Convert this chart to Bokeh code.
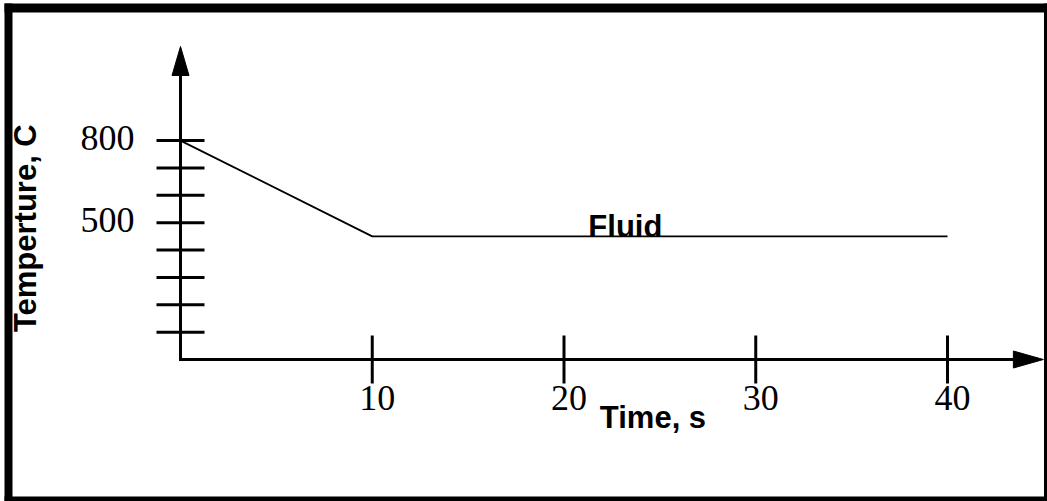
import math
from bokeh.plotting import figure
from bokeh.models import Range1d
from bokeh.core.properties import value
from bokeh.embed import file_html
from bokeh.resources import INLINE

# ---------------- data ----------------
time_s = [0, 10, 40]
temperature_c = [800, 450, 450]
x_ticks = [10, 20, 30, 40]
x_tick_labels = ["10", "20", "30", "40"]
y_ticks = [100, 200, 300, 400, 500, 600, 700, 800]
y_tick_labels = ["", "", "", "", "500", "", "", "800"]
curve_label = "Fluid"
curve_label_x = 23.2
x_title = "Time, s"
y_title = "Temperture, C"
x_axis_end = 45.0
y_axis_end = 1144.0

# ---------------- layout (pixel scale of the data) ----------------
W, H = 1047, 501
X0_PX, X_SCALE = 180.0, 19.175   # pixel of t=0, pixels per second
Y0_PX, Y_SCALE = 359.0, 0.2736   # pixel of T=0, pixels per degree


def sx(px):
    return (px - X0_PX) / X_SCALE


def sy(py):
    return (Y0_PX - py) / Y_SCALE


p = figure(width=W, height=H,
           x_range=Range1d(sx(0), sx(W)), y_range=Range1d(sy(H), sy(0)),
           x_axis_location=None, y_axis_location=None,
           toolbar_location=None, output_backend="svg",
           min_border=0, outline_line_color=None,
           background_fill_color="white", border_fill_color="white")
p.grid.grid_line_color = None

# outer frame
p.quad(left=[sx(4), sx(4), sx(1043.5), sx(4)],
       right=[sx(12), sx(1046.5), sx(1046.5), sx(1046.5)],
       bottom=[sy(500.5), sy(12), sy(500.5), sy(500.5)],
       top=[sy(3), sy(3), sy(3), sy(496)],
       fill_color="black", line_color=None)

# axes with arrows
ah_len_x = 30 / X_SCALE
ah_half_y = 8.5 / Y_SCALE
ah_len_y = 29 / Y_SCALE
ah_half_x = 8.5 / X_SCALE
p.line(x=[0, 0, x_axis_end - ah_len_x + 0.1],
       y=[y_axis_end - ah_len_y + 10, 0, 0],
       line_width=3, line_color="black", line_join="miter")
p.patch(x=[x_axis_end, x_axis_end - ah_len_x, x_axis_end - ah_len_x],
        y=[0, ah_half_y, -ah_half_y], fill_color="black", line_color="black", line_width=1)
p.patch(x=[0, -ah_half_x, ah_half_x],
        y=[y_axis_end, y_axis_end - ah_len_y, y_axis_end - ah_len_y],
        fill_color="black", line_color="black", line_width=1)

# ticks
p.scatter(x=[0] * len(y_ticks), y=y_ticks, marker="dash", size=48,
          line_width=3, line_color="black")
p.scatter(x=x_ticks, y=[0] * len(x_ticks), marker="dash", size=48,
          angle=math.pi / 2, line_width=3, line_color="black")

# tick labels
p.text(x=[0] * len(y_ticks), y=y_ticks, text=y_tick_labels,
       x_offset=-46, y_offset=-3, text_align="right", text_baseline="alphabetic",
       text_font=value("Liberation Serif"), text_font_size="36px", text_color="black")
p.text(x=x_ticks, y=[0] * len(x_ticks), text=x_tick_labels,
       x_offset=5, y_offset=38, text_align="center", text_baseline="alphabetic",
       text_font=value("Liberation Serif"), text_font_size="36px", text_color="black")

# data curve
p.line(x=time_s, y=temperature_c, line_width=1.8, line_color="black")
p.text(x=[curve_label_x], y=[temperature_c[-1]], text=[curve_label], y_offset=-10,
       text_align="center", text_baseline="alphabetic",
       text_font=value("Liberation Sans"), text_font_style="bold",
       text_font_size="31px", text_color="black")

# axis titles
p.text(x=[24.64], y=[0], text=[x_title], y_offset=58,
       text_align="center", text_baseline="alphabetic",
       text_font=value("Liberation Sans"), text_font_style="bold",
       text_font_size="31px", text_color="black")
p.text(x=[0], y=[480], text=[y_title], x_offset=-155, angle=math.pi / 2,
       text_align="center", text_baseline="alphabetic",
       text_font=value("Liberation Sans"), text_font_style="bold",
       text_font_size="31px", text_color="black")

open("out.html", "w").write(file_html(p, INLINE))
